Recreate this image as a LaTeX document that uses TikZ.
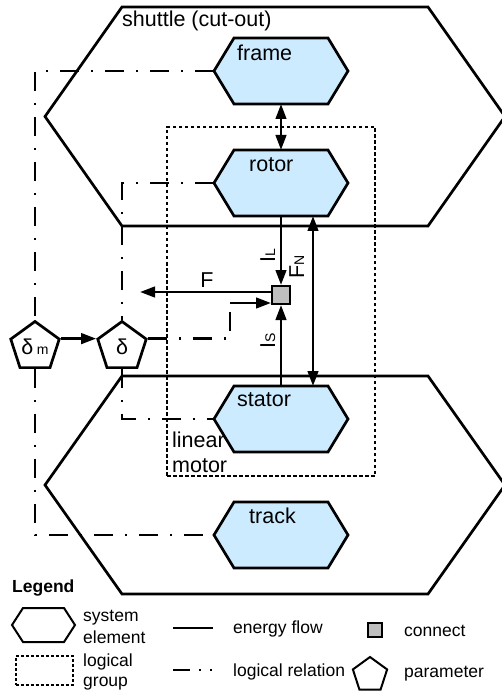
\documentclass[tikz,border=0pt]{standalone}
\usepackage{fontspec}
\setmainfont{Liberation Sans}
\usetikzlibrary{shapes.geometric,arrows.meta}
\definecolor{elemblue}{RGB}{204,235,255}
\definecolor{connectgray}{RGB}{191,191,191}
\newcommand\smallsub[1]{{\fontsize{14}{14}\selectfont #1}}
\newcommand\hexdraw[3]{\draw[#3] (#1.west) -- ([xshift=#2]#1.north west) -- ([xshift=-#2]#1.north east) -- (#1.east) -- ([xshift=-#2]#1.south east) -- ([xshift=#2]#1.south west) -- cycle;}
\begin{document}
\begin{tikzpicture}[x=1pt,y=-1pt,
  lbl/.style={font=\fontsize{21.5}{25}\selectfont, inner sep=0pt},
  leglbl/.style={font=\fontsize{17.5}{20}\selectfont, inner sep=0pt, anchor=base west},
  hexarea/.style={rectangle, inner sep=0pt, outer sep=0pt},
  bighex/.style={hexarea, minimum width=460pt, minimum height=219pt},
  elem/.style={hexarea, minimum width=134pt, minimum height=66pt},
  hexline/.style={line width=2.7pt, line join=miter},
  elemline/.style={hexline, fill=elemblue},
  grp/.style={draw, line width=2pt, dash pattern=on 3.5pt off 2.5pt, inner sep=0pt},
  connectbox/.style={draw, fill=connectgray, line width=2pt, inner sep=0pt, minimum size=18pt},
  param/.style={regular polygon, regular polygon sides=5, draw, line width=2.7pt,
    inner sep=0pt, minimum size=51pt, font=\fontsize{21.5}{25}\selectfont},
  flow/.style={line width=2.7pt},
  tip/.tip={Triangle[length=15pt,width=10.5pt]},
  logic/.style={line width=2.7pt, dash pattern=on 19pt off 12pt on 2pt off 12pt}
]
\useasboundingbox (0,0) rectangle (502,692);

% large system elements
\node[bighex] (shuttle) at (275,116.5) {};
\hexdraw{shuttle}{77pt}{hexline}
\node[bighex, minimum height=218pt] (base) at (275,485) {};
\hexdraw{base}{77pt}{hexline}
\node[lbl, anchor=base west] (shuttlelbl) at (122,27) {shuttle (cut-out)};

% logical group
\node[grp, minimum width=208pt, minimum height=349pt] (linmotor) at (271,301.5) {};
\node[lbl, anchor=base west] (linlbl) at (172,447) {linear};
\node[lbl, anchor=base west] (motlbl) at (172,472) {motor};

% system elements
\node[elem] (frame) at (281,71) {};
\hexdraw{frame}{20pt}{elemline}
\node[elem] (rotor) at (281,183) {};
\hexdraw{rotor}{20pt}{elemline}
\node[elem] (stator) at (281,419) {};
\hexdraw{stator}{20pt}{elemline}
\node[elem] (track) at (281,535) {};
\hexdraw{track}{20pt}{elemline}
\node[lbl, anchor=base west] (framelbl) at (237,61) {frame};
\node[lbl, anchor=base west] (rotorlbl) at (249,172) {rotor};
\node[lbl, anchor=base west] (statorlbl) at (237,406) {stator};
\node[lbl, anchor=base west] (tracklbl) at (249,523) {track};

% connect and parameters
\node[connectbox] (box) at (281,295) {};
\node[param] (dm) at (35,347) {δ\,\smallsub{m}};
\node[param] (d) at (122,347) {δ};

% logical relations
\draw[logic] (frame.west) -| (dm.north);
\draw[logic] (dm.south) |- (track.west);
\draw[logic] (rotor.west) -| (d.north);
\draw[logic] (d.south) |- (stator.west);
\coordinate (bend) at (230,303);
\draw[logic] (d.corner 5) -| (bend);

% energy flows
\draw[flow, tip-tip] (frame.south) -- (rotor.north);
\draw[flow, -tip] (rotor.south) -- (box.north);
\draw[flow, -tip] (stator.north) -- (box.south);
\draw[flow, tip-tip] ([xshift=32pt]rotor.south) -- ([xshift=32pt]stator.north);
\coordinate (Fend) at (140,292);
\draw[flow, -tip] (box.west |- Fend) -- (Fend);
\draw[flow, -tip] (bend) -- (box.west |- bend);
\draw[flow, -tip] (dm.corner 5) -- (d.corner 2);

\node[lbl, rotate=90, anchor=base] (IL) at (275,256) {I\smallsub{L}};
\node[lbl, rotate=90, anchor=base] (FN) at (304,267) {F\smallsub{N}};
\node[lbl, rotate=90, anchor=base] (IS) at (275,341) {I\smallsub{S}};
\node[lbl, anchor=base] (Flbl) at (207,287) {F};

% legend
\node[leglbl, font=\fontsize{17.5}{20}\selectfont\bfseries] (legend) at (12,592) {Legend};
\node[hexarea, minimum width=63pt, minimum height=34pt] (lhex) at (43.5,625) {};
\hexdraw{lhex}{11pt}{line width=2pt}
\node[leglbl] (l1a) at (83,621) {system};
\node[leglbl] (l1b) at (83,643) {element};
\coordinate (ef1) at (173,628);
\coordinate (ef2) at (213,628);
\draw[line width=2pt] (ef1) -- (ef2);
\node[leglbl] (l2) at (233,633) {energy flow};
\node[connectbox, minimum size=13.5pt, line width=1.8pt] (lbox) at (375,630) {};
\node[leglbl] (l3) at (404,636) {connect};
\node[draw, line width=1.6pt, dash pattern=on 3pt off 2pt, inner sep=0pt,
  minimum width=57pt, minimum height=29pt] (lgrp) at (44.2,670.5) {};
\node[leglbl] (l4a) at (83,666) {logical};
\node[leglbl] (l4b) at (83,686) {group};
\coordinate (lr1) at (173,670);
\coordinate (lr2) at (213,670);
\draw[line width=2pt, dash pattern=on 17pt off 9pt on 2pt off 9pt on 2pt off 20pt] (lr1) -- (lr2);
\node[leglbl] (l5) at (233,676) {logical relation};
\node[param, minimum size=36pt, line width=2pt] (lpar) at (370,675) {};
\node[leglbl] (l6) at (404,677) {parameter};
\end{tikzpicture}
\end{document}
